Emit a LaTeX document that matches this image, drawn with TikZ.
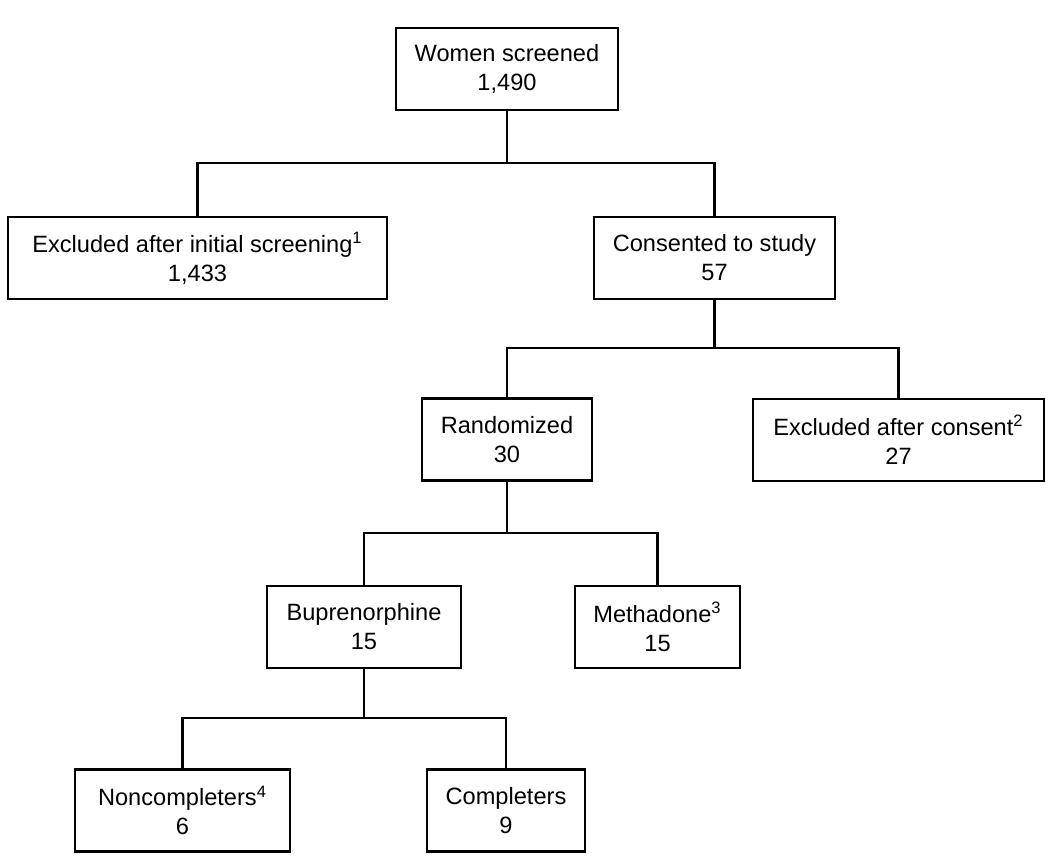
\documentclass[tikz,border=0pt]{standalone}
\usepackage{fontspec}
\setmainfont{Liberation Sans}
\usetikzlibrary{positioning}

\begin{document}
\begin{tikzpicture}[x=0.5pt,y=-0.5pt,line width=1.1pt,
    box/.style={draw,align=center,minimum height=41pt,inner sep=2pt,
                font=\fontsize{11.8}{14.5}\selectfont}]
    \useasboundingbox (0,0) rectangle (1050,859);

    % boxes
    \node[box,minimum width=111pt] (women) at (507,69) {Women screened\\1,490};
    \node[box,minimum width=189.5pt] (excl1) at (197.5,258) {Excluded after initial screening\textsuperscript{1}\\1,433};
    \node[box,minimum width=120.5pt] (consent) at (714.5,258) {Consented to study\\57};
    \node[box,minimum width=85pt] (random) at (507,439.5) {Randomized\\30};
    \node[box,minimum width=145.5pt] (excl2) at (898.5,440) {Excluded after consent\textsuperscript{2}\\27};
    \node[box,minimum width=97pt] (bup) at (364,627) {Buprenorphine\\15};
    \node[box,minimum width=82.5pt] (meth) at (657.5,627) {Methadone\textsuperscript{3}\\15};
    \node[box,minimum width=107.5pt] (noncomp) at (182.5,810.5) {Noncompleters\textsuperscript{4}\\6};
    \node[box,minimum width=79pt] (comp) at (506,810.5) {Completers\\9};

    % branch points
    \coordinate (j1) at (507,163);
    \coordinate (j2) at (714.5,348);
    \coordinate (j3) at (507,533);
    \coordinate (j4) at (364,718);

    \draw (women.south) -- (j1);
    \draw (excl1.north) |- (j1) -| (consent.north);
    \draw (consent.south) -- (j2);
    \draw (random.north) |- (j2) -| (excl2.north);
    \draw (random.south) -- (j3);
    \draw (bup.north) |- (j3) -| (meth.north);
    \draw (bup.south) -- (j4);
    \draw (noncomp.north) |- (j4) -| (comp.north);
\end{tikzpicture}
\end{document}
